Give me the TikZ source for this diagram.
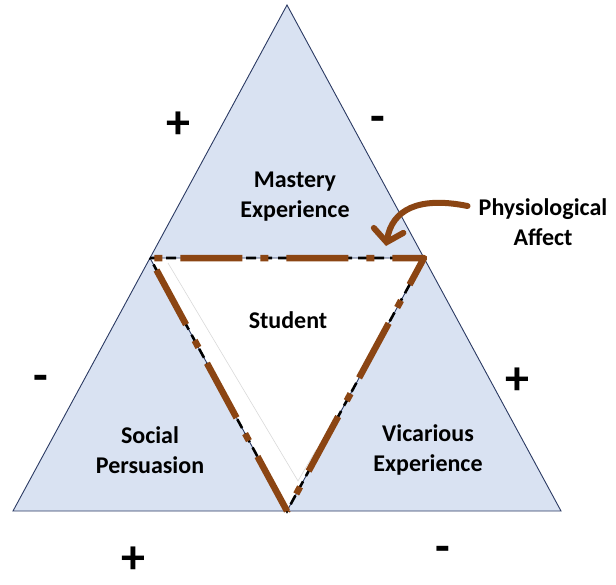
\documentclass[tikz,border=0pt]{standalone}
\usepackage{fontspec}
\setmainfont{Carlito}
\usetikzlibrary{arrows.meta,positioning}
\definecolor{TriFill}{HTML}{D9E2F2}
\definecolor{TriLine}{HTML}{2B3A63}
\definecolor{Sketch}{HTML}{8B4513}
\tikzset{
  face/.style={draw=TriLine,line width=0.9pt,fill=TriFill,line join=miter},
  source/.style={font=\bfseries\fontsize{24}{30}\selectfont,align=center,inner sep=1pt},
  sign/.style={font=\bfseries\fontsize{48}{48}\selectfont,inner sep=0pt},
  inkdash/.style={draw=black,line width=2.6pt,dash pattern=on 10pt off 6pt},
  inkbrown/.style={draw=Sketch,line width=6.5pt,line join=round,
                   dash pattern=on 62pt off 18pt on 8pt off 18pt},
  pointer/.style={draw=Sketch,line width=6pt,line cap=round,
                  -{Straight Barb[length=12pt,width=30pt,line cap=round]}}
}
\begin{document}
\begin{tikzpicture}[x=1pt,y=-1pt]
  \useasboundingbox (0,0) rectangle (616,584);
  % corners of the outer triangle and the inner one
  \coordinate (top) at (287,5);
  \coordinate (bl) at (13,511);
  \coordinate (br) at (561,511);
  \coordinate (ml) at (150,258);
  \coordinate (mr) at (424,258);
  \coordinate (mb) at (287,511);

  % the three outer faces
  \draw[face] (top) -- (mr) -- (ml) -- cycle;
  \draw[face] (ml) -- (mb) -- (bl) -- cycle;
  \draw[face] (mr) -- (br) -- (mb) -- cycle;

  % faint trace inside the student triangle
  \draw[black!15,line width=0.6pt] (168,263) -- (298,481) -- (316,450);

  % sketched border around the student
  \draw[inkdash] (ml) -- (mr) -- (mb) -- cycle;
  \draw[inkbrown] (mb) -- (ml) -- (mr) -- cycle;

  % sources
  \node[source] (mastery) at (295,197) {Mastery\\Experience};
  \node[source] (student) at (288,320) {Student};
  \node[source] (social) at (150,450) {Social\\Persuasion};
  \node[source] (vicarious) at (428,450) {Vicarious\\Experience};
  \node[source] (affect) at (543,222) {Physiological\\Affect};

  % pointer from physiological affect onto the border
  \coordinate (affecttip) at (386,246);
  \draw[pointer] (affect.west) ++(-10,-16) .. controls (418,196) and (392,210) .. (affecttip);

  % signs
  \node[sign] (plusA) at (178,125) {+};
  \node[sign] (minusA) at (378,124) {-};
  \node[sign] (minusB) at (41,383) {-};
  \node[sign] (plusB) at (517,381) {+};
  \node[sign] (plusC) at (133,560) {+};
  \node[sign] (minusC) at (443,554) {-};
\end{tikzpicture}
\end{document}
